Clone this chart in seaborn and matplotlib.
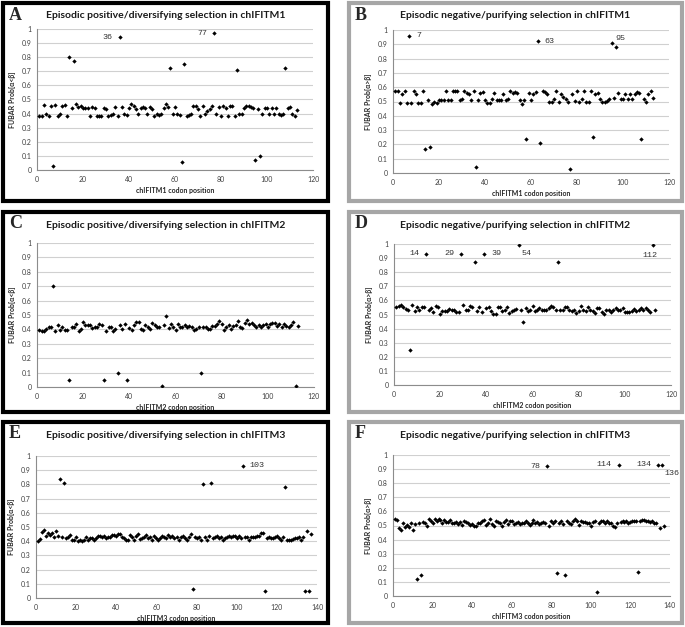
import numpy as np
import pandas as pd
import matplotlib
matplotlib.use("Agg")
import matplotlib.pyplot as plt
import seaborn as sns
from matplotlib.patches import Rectangle

# ========== data ==========
pos1 = [0.385, 0.385, 0.46, 0.40, 0.385, 0.455, 0.03, 0.46, 0.38, 0.40,
        0.455, 0.46, 0.385, 0.80, 0.44, 0.775, 0.465, 0.445, 0.455, 0.44,
        0.44, 0.44, 0.38, 0.445, 0.44, 0.385, 0.385, 0.385, 0.44, 0.43,
        0.385, 0.39, 0.40, 0.445, 0.38, 0.94, 0.445, 0.395, 0.39, 0.44,
        0.465, 0.455, 0.43, 0.395, 0.44, 0.445, 0.44, 0.40, 0.445, 0.435,
        0.385, 0.395, 0.39, 0.395, 0.44, 0.47, 0.445, 0.72, 0.395, 0.445,
        0.40, 0.39, 0.06, 0.75, 0.385, 0.39, 0.40, 0.455, 0.455, 0.43,
        0.385, 0.455, 0.40, 0.42, 0.43, 0.455, 0.97, 0.40, 0.45, 0.385,
        0.455, 0.44, 0.385, 0.455, 0.455, 0.385, 0.71, 0.40, 0.395, 0.44,
        0.455, 0.455, 0.45, 0.44, 0.07, 0.43, 0.10, 0.395, 0.44, 0.44,
        0.40, 0.44, 0.40, 0.44, 0.40, 0.39, 0.395, 0.72, 0.44, 0.45,
        0.40, 0.385, 0.425]

neg1 = [0.57, 0.57, 0.49, 0.55, 0.57, 0.49, 0.96, 0.49, 0.57, 0.55,
        0.49, 0.49, 0.57, 0.17, 0.51, 0.18, 0.485, 0.50, 0.49, 0.51,
        0.51, 0.51, 0.57, 0.51, 0.51, 0.57, 0.57, 0.57, 0.51, 0.52,
        0.57, 0.56, 0.55, 0.51, 0.575, 0.04, 0.51, 0.56, 0.565, 0.51,
        0.49, 0.49, 0.52, 0.56, 0.51, 0.51, 0.51, 0.555, 0.51, 0.52,
        0.57, 0.56, 0.565, 0.56, 0.51, 0.485, 0.51, 0.24, 0.56, 0.51,
        0.555, 0.565, 0.92, 0.21, 0.57, 0.565, 0.555, 0.50, 0.50, 0.52,
        0.57, 0.50, 0.555, 0.53, 0.52, 0.50, 0.03, 0.555, 0.505, 0.57,
        0.50, 0.515, 0.57, 0.50, 0.50, 0.57, 0.25, 0.555, 0.56, 0.515,
        0.50, 0.50, 0.505, 0.515, 0.91, 0.525, 0.88, 0.56, 0.515, 0.515,
        0.555, 0.515, 0.555, 0.515, 0.555, 0.565, 0.56, 0.24, 0.515, 0.50,
        0.555, 0.57, 0.525]

pos2 = [0.395, 0.39, 0.39, 0.40, 0.415, 0.42, 0.70, 0.39, 0.43, 0.395,
        0.42, 0.395, 0.395, 0.05, 0.42, 0.415, 0.435, 0.39, 0.405, 0.45,
        0.43, 0.43, 0.43, 0.41, 0.42, 0.42, 0.435, 0.43, 0.05, 0.39,
        0.42, 0.42, 0.39, 0.40, 0.10, 0.43, 0.40, 0.435, 0.05, 0.41,
        0.395, 0.43, 0.45, 0.45, 0.405, 0.395, 0.43, 0.42, 0.405, 0.445,
        0.43, 0.42, 0.415, 0.005, 0.43, 0.49, 0.41, 0.435, 0.42, 0.395,
        0.435, 0.42, 0.415, 0.43, 0.42, 0.425, 0.415, 0.395, 0.40, 0.42,
        0.10, 0.42, 0.42, 0.40, 0.40, 0.425, 0.425, 0.44, 0.455, 0.44,
        0.395, 0.42, 0.43, 0.40, 0.425, 0.43, 0.455, 0.415, 0.41, 0.445,
        0.465, 0.44, 0.445, 0.43, 0.415, 0.43, 0.42, 0.43, 0.44, 0.415,
        0.44, 0.445, 0.445, 0.425, 0.435, 0.42, 0.435, 0.425, 0.415, 0.43,
        0.45, 0.005, 0.425]

neg2 = [0.555, 0.56, 0.565, 0.555, 0.54, 0.53, 0.25, 0.565, 0.525, 0.555,
        0.535, 0.555, 0.555, 0.93, 0.53, 0.545, 0.515, 0.56, 0.55, 0.505,
        0.525, 0.525, 0.525, 0.54, 0.53, 0.53, 0.515, 0.52, 0.93, 0.565,
        0.53, 0.53, 0.56, 0.55, 0.87, 0.525, 0.555, 0.515, 0.93, 0.545,
        0.555, 0.525, 0.505, 0.505, 0.55, 0.555, 0.525, 0.535, 0.55, 0.51,
        0.525, 0.535, 0.54, 0.99, 0.53, 0.45, 0.545, 0.525, 0.535, 0.56,
        0.525, 0.535, 0.545, 0.53, 0.535, 0.535, 0.545, 0.56, 0.555, 0.535,
        0.87, 0.535, 0.535, 0.555, 0.555, 0.535, 0.525, 0.53, 0.51, 0.525,
        0.56, 0.535, 0.525, 0.555, 0.535, 0.525, 0.51, 0.545, 0.545, 0.52,
        0.505, 0.53, 0.53, 0.52, 0.535, 0.545, 0.53, 0.535, 0.545, 0.52,
        0.52, 0.52, 0.525, 0.54, 0.525, 0.535, 0.545, 0.53, 0.545, 0.535,
        0.515, 0.99, 0.535]

pos3 = [0.40, 0.415, 0.465, 0.48, 0.435, 0.455, 0.445, 0.455, 0.43, 0.475,
        0.44, 0.84, 0.43, 0.81, 0.42, 0.43, 0.445, 0.405, 0.41, 0.43,
        0.40, 0.41, 0.40, 0.41, 0.43, 0.41, 0.425, 0.425, 0.41, 0.42,
        0.44, 0.44, 0.43, 0.44, 0.42, 0.43, 0.43, 0.445, 0.445, 0.44,
        0.45, 0.45, 0.43, 0.42, 0.41, 0.41, 0.445, 0.43, 0.41, 0.44,
        0.45, 0.415, 0.42, 0.43, 0.445, 0.42, 0.43, 0.41, 0.44, 0.42,
        0.41, 0.42, 0.44, 0.43, 0.42, 0.445, 0.43, 0.435, 0.42, 0.43,
        0.41, 0.43, 0.44, 0.425, 0.41, 0.43, 0.45, 0.06, 0.43, 0.42,
        0.43, 0.41, 0.80, 0.43, 0.41, 0.44, 0.81, 0.42, 0.43, 0.44,
        0.42, 0.43, 0.41, 0.42, 0.43, 0.44, 0.43, 0.435, 0.44, 0.425,
        0.44, 0.42, 0.93, 0.43, 0.43, 0.41, 0.43, 0.43, 0.43, 0.435,
        0.44, 0.455, 0.46, 0.05, 0.425, 0.43, 0.425, 0.42, 0.43, 0.44,
        0.42, 0.41, 0.43, 0.78, 0.41, 0.41, 0.41, 0.415, 0.42, 0.42,
        0.43, 0.41, 0.43, 0.05, 0.47, 0.05, 0.45]

neg3 = [0.545, 0.54, 0.485, 0.47, 0.52, 0.49, 0.505, 0.49, 0.52, 0.47,
        0.51, 0.12, 0.52, 0.15, 0.525, 0.515, 0.50, 0.545, 0.535, 0.515,
        0.545, 0.535, 0.545, 0.54, 0.515, 0.54, 0.525, 0.525, 0.54, 0.52,
        0.515, 0.525, 0.51, 0.525, 0.505, 0.535, 0.525, 0.52, 0.505, 0.51,
        0.50, 0.50, 0.52, 0.52, 0.53, 0.54, 0.505, 0.52, 0.545, 0.51,
        0.50, 0.535, 0.525, 0.52, 0.50, 0.525, 0.54, 0.51, 0.535, 0.535,
        0.51, 0.52, 0.525, 0.51, 0.52, 0.52, 0.535, 0.52, 0.505, 0.515,
        0.54, 0.52, 0.525, 0.51, 0.52, 0.525, 0.515, 0.92, 0.495, 0.53,
        0.52, 0.535, 0.16, 0.52, 0.535, 0.51, 0.15, 0.53, 0.52, 0.51,
        0.53, 0.545, 0.53, 0.505, 0.535, 0.525, 0.525, 0.52, 0.52, 0.50,
        0.525, 0.535, 0.03, 0.52, 0.53, 0.53, 0.52, 0.53, 0.515, 0.515,
        0.50, 0.49, 0.52, 0.93, 0.525, 0.53, 0.525, 0.535, 0.515, 0.525,
        0.53, 0.53, 0.53, 0.17, 0.535, 0.54, 0.54, 0.535, 0.53, 0.525,
        0.53, 0.515, 0.52, 0.93, 0.48, 0.93, 0.50]

letters = ["A", "B", "C", "D", "E", "F"]
titles = ["Episodic positive/diversifying selection in chIFITM1",
          "Episodic negative/purifying selection in chIFITM1",
          "Episodic positive/diversifying selection in chIFITM2",
          "Episodic negative/purifying selection in chIFITM2",
          "Episodic positive/diversifying selection in chIFITM3",
          "Episodic negative/purifying selection in chIFITM3"]
ylabels = ["FUBAR Prob[α<β]", "FUBAR Prob[α>β]"] * 3
xlabels = ["chIFITM1 codon position"] * 2 + ["chIFITM2 codon position"] * 2 + \
          ["chIFITM3 codon position"] * 2
series = [pos1, neg1, pos2, neg2, pos3, neg3]
xmax = [120, 120, 120, 120, 140, 140]
ytick_vals = [0, 0.1, 0.2, 0.3, 0.4, 0.5, 0.6, 0.7, 0.8, 0.9, 1]
ytick_labels = ["0", "0.1", "0.2", "0.3", "0.4", "0.5", "0.6", "0.7", "0.8", "0.9", "1"]

# labelled codons: (codon, text, side)
labels = [
    [(36, "36", "l"), (77, "77", "l")],
    [(7, "7", "r"), (63, "63", "r"), (95, "95", "ru")],
    [],
    [(14, "14", "l"), (29, "29", "l"), (39, "39", "r"), (54, "54", "rd"), (112, "112", "d")],
    [(103, "103", "r")],
    [(78, "78", "l"), (114, "114", "l"), (134, "134", "l"), (136, "136", "rd")],
]

# ========== layout (pixels) ==========
W, H = 685, 627
boxes = [(3, 3, 328, 201), (349, 3, 682, 201),
         (3, 212, 328, 412), (349, 212, 682, 412),
         (3, 422, 328, 623), (349, 422, 682, 623)]
plots = [(37, 29, 313, 170), (393, 30, 669, 173),
         (37, 243, 314, 387), (394, 244, 671, 385),
         (36, 456, 317, 598), (393, 455, 670, 596)]

sns.set_style("white")
plt.rcParams['font.family'] = ['Lato', 'DejaVu Sans']

fig = plt.figure(figsize=(W / 100, H / 100), dpi=100)

for i in range(6):
    bx0, by0, bx1, by1 = boxes[i]
    col = "black" if i % 2 == 0 else "#a6a6a6"
    fig.patches.append(Rectangle((bx0 / W, 1 - by1 / H), (bx1 - bx0) / W, (by1 - by0) / H,
                                 transform=fig.transFigure, fill=False, ec=col, lw=3))

    px0, py0, px1, py1 = plots[i]
    ax = fig.add_axes([px0 / W, 1 - py1 / H, (px1 - px0) / W, (py1 - py0) / H])

    vals = series[i]
    df = pd.DataFrame({"codon": np.arange(1, len(vals) + 1), "prob": vals})
    sns.scatterplot(data=df, x="codon", y="prob", ax=ax, color="black",
                    s=5, marker="D", linewidth=0, zorder=3)

    ax.set_xlim(0, xmax[i])
    ax.set_ylim(0, 1)
    ax.set_xticks(np.arange(0, xmax[i] + 1, 20))
    ax.set_yticks(ytick_vals)
    ax.set_yticklabels(ytick_labels)
    ax.yaxis.grid(True, color="#d0d0d0", lw=0.8)
    ax.set_axisbelow(True)
    for s in ["top", "right"]:
        ax.spines[s].set_visible(False)
    for s in ["left", "bottom"]:
        ax.spines[s].set_color("#8c8c8c")
        ax.spines[s].set_linewidth(0.8)
    ax.tick_params(axis="both", labelsize=5, colors="#8c8c8c", labelcolor="#404040",
                   length=2, width=0.6, direction="out", pad=2)
    ax.set_xlabel(xlabels[i], fontsize=5, fontweight="bold", color="#262626", labelpad=3)
    ax.set_ylabel(ylabels[i], fontsize=5, fontweight="bold", color="#262626", labelpad=4)

    # titles and panel letters
    cx = (bx0 + bx1) / 2 / W
    fig.text(cx, 1 - (by0 + 13) / H, titles[i], ha="center", va="center",
             fontsize=7.5, fontweight="bold", color="#1a1a1a")
    fig.text((bx0 + 6) / W, 1 - (by0 + 12) / H, letters[i], ha="left", va="center",
             fontsize=13, fontweight="bold", family="Liberation Serif")

    # annotations of selected codons
    for codon, txt, side in labels[i]:
        yv = vals[codon - 1]
        off = {"l": (-5, 0, "right", "center"), "r": (5, 0, "left", "center"),
               "ru": (3, 3, "left", "center"), "rd": (2, -6, "left", "center"),
               "d": (-2, -7, "center", "center")}[side]
        ax.annotate(txt, (codon, yv), xytext=(off[0], off[1]), textcoords="offset points",
                    ha=off[2], va=off[3], fontsize=6, color="#333333",
                    family="Liberation Mono", annotation_clip=False)

fig.savefig("out.png", dpi=100)
